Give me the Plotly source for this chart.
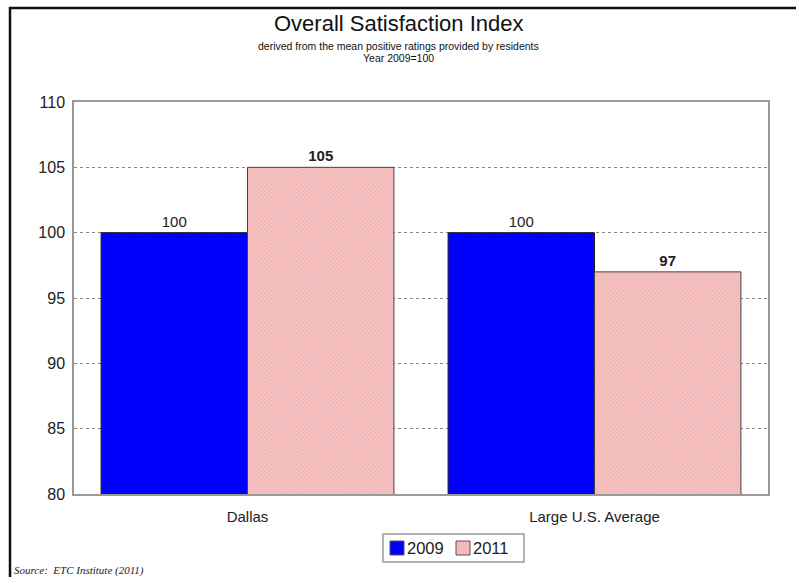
import plotly.graph_objects as go

categories = ["Dallas", "Large U.S. Average"]
series_names = ["2009", "2011"]
values_2009 = [100, 100]
values_2011 = [105, 97]
y_ticks = [80, 85, 90, 95, 100, 105, 110]

BLUE = "#0000FF"
PINK = "#F5B8B8"

W, H = 796, 577
L, R, T, B = 74, 28, 102, 83
pw = W - L - R
ph = H - T - B

def px_x(x):
    return (x - L) / pw

def px_y(y):
    return (H - B - y) / ph

SANS = "Liberation Sans, Arial, sans-serif"

fig = go.Figure()
fig.add_trace(go.Bar(
    x=categories, y=values_2009, name=series_names[0],
    marker=dict(color=BLUE, line=dict(color="#222222", width=1)),
    text=[str(v) for v in values_2009], textposition="outside",
    textfont=dict(family=SANS, size=15, color="#222222"),
    cliponaxis=False, showlegend=False,
))
fig.add_trace(go.Bar(
    x=categories, y=values_2011, name=series_names[1],
    marker=dict(color=PINK, line=dict(color="#444444", width=1),
                pattern=dict(shape="x", size=3, solidity=0.25,
                             fgcolor="#E3A0A0", bgcolor="#F7C3C3", fillmode="replace")),
    text=["<b>%d</b>" % v for v in values_2011], textposition="outside",
    textfont=dict(family=SANS, size=15, color="#222222"),
    cliponaxis=False, showlegend=False,
))

# legend drawn as a box with swatches and text labels
leg_box = (383, 534, 524, 562)
leg_items = [(series_names[0], BLUE, 390), (series_names[1], PINK, 456)]
shapes = [
    dict(type="rect", xref="paper", yref="paper",
         x0=px_x(10), y0=px_y(H + 20), x1=px_x(W + 20), y1=px_y(8),
         line=dict(color="#111111", width=2.5), fillcolor="rgba(0,0,0,0)", layer="below"),
    dict(type="rect", xref="paper", yref="paper",
         x0=px_x(leg_box[0]), y0=px_y(leg_box[3]), x1=px_x(leg_box[2]), y1=px_y(leg_box[1]),
         line=dict(color="#999999", width=1.5), fillcolor="white"),
]
annotations = []
for name, col, sx in leg_items:
    shapes.append(dict(type="rect", xref="paper", yref="paper",
                       x0=px_x(sx), y0=px_y(555), x1=px_x(sx + 14), y1=px_y(541),
                       line=dict(color="#555555", width=1), fillcolor=col))
    annotations.append(dict(text=name, x=px_x(sx + 15), y=px_y(548), xref="paper", yref="paper",
                            showarrow=False, xanchor="left", yanchor="middle",
                            font=dict(size=16.5, family=SANS, color="#222222")))

CX = px_x(398)
annotations += [
    dict(text="Overall Satisfaction Index", x=CX, y=px_y(23), xref="paper", yref="paper",
         showarrow=False, font=dict(size=22, color="#111111", family=SANS),
         xanchor="center", yanchor="middle"),
    dict(text="derived from the mean positive ratings provided by residents", x=CX, y=px_y(46),
         xref="paper", yref="paper", showarrow=False, font=dict(size=10.5, color="#111111", family=SANS),
         xanchor="center", yanchor="middle"),
    dict(text="Year 2009=100", x=CX, y=px_y(58), xref="paper", yref="paper",
         showarrow=False, font=dict(size=10.5, color="#111111", family=SANS),
         xanchor="center", yanchor="middle"),
    dict(text="<i>Source:  ETC Institute (2011)</i>", x=px_x(12), y=px_y(570), xref="paper", yref="paper",
         showarrow=False, font=dict(size=11, color="#222222", family="Liberation Serif, Times New Roman, serif"),
         xanchor="left", yanchor="middle"),
]

fig.update_layout(
    width=W, height=H,
    margin=dict(l=L, r=R, t=T, b=B),
    paper_bgcolor="white", plot_bgcolor="white",
    barmode="group", bargap=0.156, bargroupgap=0,
    font=dict(family=SANS, color="#222222"),
    showlegend=False,
    xaxis=dict(
        showline=True, linecolor="#999999", linewidth=1.5, mirror=True,
        ticks="", tickfont=dict(size=15, color="#222222"), ticklabelstandoff=8,
    ),
    yaxis=dict(
        range=[80, 110], tickvals=y_ticks,
        showline=True, linecolor="#999999", linewidth=1.5, mirror=True,
        showgrid=True, gridcolor="#888888", griddash="dot", gridwidth=1,
        ticks="", tickfont=dict(size=16, color="#222222"), ticklabelstandoff=4,
        zeroline=False,
    ),
    annotations=annotations,
    shapes=shapes,
)

fig.write_html("out.html")
